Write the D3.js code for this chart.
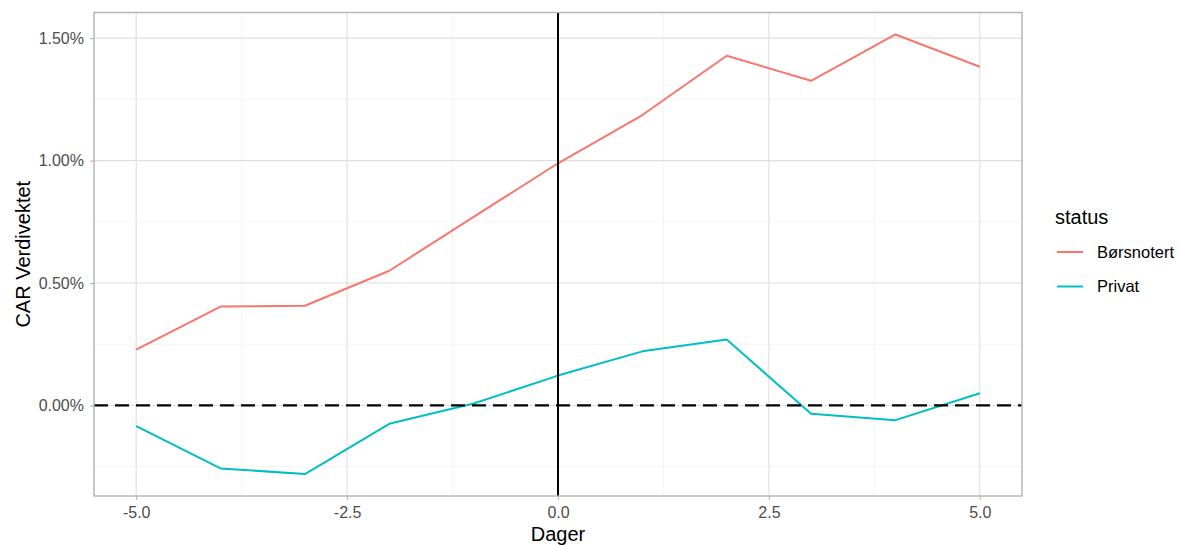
<!DOCTYPE html>
<html>
<head>
<meta charset="utf-8">
<script src="https://cdn.jsdelivr.net/npm/d3@7"></script>
<style>
  body { margin: 0; background: #fff; }
  text { font-family: "Liberation Sans", Arial, Helvetica, sans-serif; }
</style>
</head>
<body>
<svg id="chart" width="1178" height="545"></svg>
<script>
const days = [-5, -4, -3, -2, -1, 0, 1, 2, 3, 4, 5];
const seriesNames = ["Børsnotert", "Privat"];
const borsnotert = [0.228, 0.404, 0.407, 0.550, 0.770, 0.989, 1.186, 1.428, 1.326, 1.515, 1.383];
const privat = [-0.084, -0.257, -0.280, -0.075, 0.008, 0.122, 0.221, 0.269, -0.034, -0.060, 0.050];
const seriesColors = ["#F8766D", "#00BFC4"];
const xTicks = [-5, -2.5, 0, 2.5, 5];
const xMinor = [-3.75, -1.25, 1.25, 3.75];
const yTicks = [0, 0.5, 1.0, 1.5];
const yMinor = [-0.25, 0.25, 0.75, 1.25];

const series = [
  { name: seriesNames[0], values: borsnotert, color: seriesColors[0] },
  { name: seriesNames[1], values: privat, color: seriesColors[1] }
];

const svg = d3.select("#chart");
const panel = { left: 94, right: 1022, top: 12.5, bottom: 496 };

const allVals = borsnotert.concat(privat);
const yMin = d3.min(allVals), yMax = d3.max(allVals);
const yPad = (yMax - yMin) * 0.05;
const xPad = (d3.max(days) - d3.min(days)) * 0.05;

const x = d3.scaleLinear()
  .domain([d3.min(days) - xPad, d3.max(days) + xPad])
  .range([panel.left, panel.right]);
const y = d3.scaleLinear()
  .domain([yMin - yPad, yMax + yPad])
  .range([panel.bottom, panel.top]);

const g = svg.append("g");
const grid = "#EBEBEB";
const gridMajor = "#DEDEDE";

// minor grid
g.selectAll(".xminor").data(xMinor).enter().append("line")
  .attr("x1", d => x(d)).attr("x2", d => x(d))
  .attr("y1", panel.top).attr("y2", panel.bottom)
  .attr("stroke", grid).attr("stroke-width", 0.55);
g.selectAll(".yminor").data(yMinor).enter().append("line")
  .attr("y1", d => y(d)).attr("y2", d => y(d))
  .attr("x1", panel.left).attr("x2", panel.right)
  .attr("stroke", grid).attr("stroke-width", 0.55);
// major grid
g.selectAll(".xmajor").data(xTicks).enter().append("line")
  .attr("x1", d => x(d)).attr("x2", d => x(d))
  .attr("y1", panel.top).attr("y2", panel.bottom)
  .attr("stroke", gridMajor).attr("stroke-width", 1.1);
g.selectAll(".ymajor").data(yTicks).enter().append("line")
  .attr("y1", d => y(d)).attr("y2", d => y(d))
  .attr("x1", panel.left).attr("x2", panel.right)
  .attr("stroke", gridMajor).attr("stroke-width", 1.1);

// data lines
const line = d3.line().x((d, i) => x(days[i])).y(d => y(d));
g.selectAll(".series").data(series).enter().append("path")
  .attr("d", d => line(d.values))
  .attr("fill", "none")
  .attr("stroke", d => d.color)
  .attr("stroke-width", 2)
  .attr("stroke-linejoin", "round");

// reference lines
g.append("line")
  .attr("x1", panel.left).attr("x2", panel.right)
  .attr("y1", y(0)).attr("y2", y(0))
  .attr("stroke", "#000").attr("stroke-width", 2.2)
  .attr("stroke-dasharray", "14,7");
g.append("line")
  .attr("x1", x(0)).attr("x2", x(0))
  .attr("y1", panel.top).attr("y2", panel.bottom)
  .attr("stroke", "#000").attr("stroke-width", 2);

// panel border
g.append("rect")
  .attr("x", panel.left).attr("y", panel.top)
  .attr("width", panel.right - panel.left).attr("height", panel.bottom - panel.top)
  .attr("fill", "none").attr("stroke", "#B3B3B3").attr("stroke-width", 1.4);

// axes
const fmtX = d => d3.format(".1f")(d).replace("\u2212", "-");
const fmtY = d => d3.format(".2f")(d).replace("\u2212", "-") + "%";
const xAxis = d3.axisBottom(x).tickValues(xTicks).tickFormat(fmtX).tickSize(4).tickPadding(5);
const yAxis = d3.axisLeft(y).tickValues(yTicks).tickFormat(fmtY).tickSize(4).tickPadding(6);

const xg = svg.append("g").attr("transform", `translate(0,${panel.bottom})`).call(xAxis);
const yg = svg.append("g").attr("transform", `translate(${panel.left},0)`).call(yAxis);
[xg, yg].forEach(a => {
  a.select(".domain").remove();
  a.selectAll(".tick line").attr("stroke", "#B3B3B3").attr("stroke-width", 1.1);
  a.selectAll(".tick text").attr("fill", "#4D4D4D").style("font-size", "16px");
});
xg.selectAll(".tick text").attr("y", 22).attr("dy", 0);

// axis titles
svg.append("text").attr("x", (panel.left + panel.right) / 2).attr("y", 541)
  .attr("text-anchor", "middle").style("font-size", "20px").attr("fill", "#000").text("Dager");
svg.append("text")
  .attr("transform", `translate(30,${(panel.top + panel.bottom) / 2}) rotate(-90)`)
  .attr("text-anchor", "middle").style("font-size", "20px").attr("fill", "#000").text("CAR Verdivektet");

// legend
const lg = svg.append("g").attr("transform", "translate(1055,0)");
lg.append("text").attr("x", 0).attr("y", 224).style("font-size", "20px").attr("fill", "#000").text("status");
series.forEach((s, i) => {
  const cy = 252 + i * 34.5;
  lg.append("line").attr("x1", 2).attr("x2", 28).attr("y1", cy).attr("y2", cy)
    .attr("stroke", s.color).attr("stroke-width", 2);
  lg.append("text").attr("x", 42).attr("y", cy).attr("dy", "0.35em")
    .style("font-size", "16.5px").attr("fill", "#000").text(s.name);
});
</script>
</body>
</html>
